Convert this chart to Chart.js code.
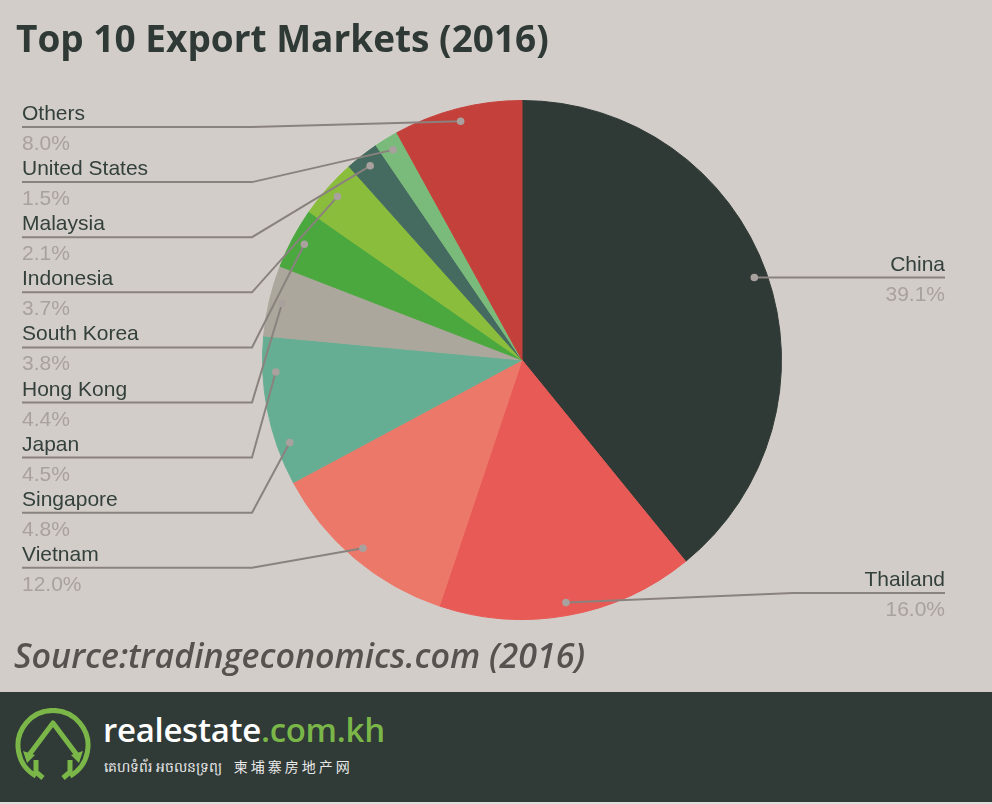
<!DOCTYPE html>
<html>
<head>
<meta charset="utf-8">
<script src="https://cdn.jsdelivr.net/npm/chart.js@4.4.1/dist/chart.umd.min.js"></script>
<style>
  html,body{margin:0;padding:0;}
  body{width:992px;height:804px;position:relative;overflow:hidden;background:#d3cdc9;}
  #c{position:absolute;left:0;top:0;}
  .title{position:absolute;left:16px;top:12px;font-family:"Open Sans",sans-serif;font-weight:700;font-size:37px;color:#2f3a36;white-space:nowrap;}
  .source{position:absolute;left:14px;top:632px;font-family:"Open Sans",sans-serif;font-style:italic;font-weight:600;font-size:34px;color:#57524f;white-space:nowrap;}
  .footer{position:absolute;left:0;top:692px;width:992px;height:110px;background:#303a37;border-bottom:2px solid #e2dedb;}
  .brand{position:absolute;left:103px;top:15px;font-family:"Open Sans",sans-serif;font-weight:600;font-size:33px;color:#ffffff;white-space:nowrap;letter-spacing:-0.3px;}
  .brand span{color:#7ab648;}
  .sub{position:absolute;left:104px;top:64px;font-family:"Noto Sans","Noto Sans CJK SC",sans-serif;font-size:14px;color:#e8e8e8;white-space:nowrap;}
  .sub .cn{font-family:"Noto Sans CJK SC",sans-serif;letter-spacing:3px;margin-left:12px;}
  svg.logo{position:absolute;left:10px;top:16px;}
</style>
</head>
<body>
<canvas id="c" width="992" height="804"></canvas>
<div class="title">Top 10 Export Markets (2016)</div>
<div class="source">Source:tradingeconomics.com (2016)</div>
<div class="footer">
  <svg class="logo" width="86" height="80" viewBox="0 0 86 80">
    <path d="M26,68 A35,35 0 1 1 60,68" fill="none" stroke="#7ab648" stroke-width="5"/>
    <path d="M19,47 L43,15 L67,47" fill="none" stroke="#7ab648" stroke-width="5" stroke-linejoin="round"/>
    <path d="M13,43 L17,55 L25,47 Z" fill="#7ab648"/>
    <path d="M73,43 L69,55 L61,47 Z" fill="#7ab648"/>
    <path d="M26,52 L26,64 L33,70" fill="none" stroke="#7ab648" stroke-width="5"/>
    <path d="M60,52 L60,64 L53,70" fill="none" stroke="#7ab648" stroke-width="5"/>
  </svg>
  <div class="brand">realestate<span>.com.kh</span></div>
  <div class="sub">គេហទំព័រ អចលនទ្រព្យ<span class="cn">柬埔寨房地产网</span></div>
</div>
<script>
const categories = ["China","Thailand","Vietnam","Singapore","Japan","Hong Kong","South Korea","Indonesia","Malaysia","United States","Others"];
const shares = [39.1,16.0,12.0,4.8,4.5,4.4,3.8,3.7,2.1,1.5,8.0];
const sliceColors = ["#2f3a36","#e85a55","#ec786a","#66ae93","#66ae93","#aca79c","#4aa83e","#8bbd3c","#456b60","#7aba7a","#c4403a"];

const calloutPlugin = {
  id: 'callouts',
  afterDatasetsDraw(chart){
    const ctx = chart.ctx;
    const meta = chart.getDatasetMeta(0);
    ctx.save();
    const fontName = '21px "Liberation Sans", Arial, sans-serif';
    meta.data.forEach((arc, i) => {
      const mid = (arc.startAngle + arc.endAngle)/2;
      const r = arc.outerRadius*0.95;
      const dx = arc.x + Math.cos(mid)*r;
      const dy = arc.y + Math.sin(mid)*r;
      const name = categories[i];
      const pct = shares[i].toFixed(1) + '%';
      ctx.strokeStyle = '#8a827e';
      ctx.lineWidth = 2;
      let lineY, textX, align;
      ctx.beginPath();
      if (i === 0) {
        lineY = dy; textX = 945; align = 'right';
        ctx.moveTo(dx, dy); ctx.lineTo(945, lineY);
      } else if (i === 1) {
        lineY = 593; textX = 945; align = 'right';
        ctx.moveTo(dx, dy); ctx.lineTo(793, lineY); ctx.lineTo(945, lineY);
      } else {
        const row = categories.length - 1 - i; // Others first
        lineY = 127 + row*55.1; textX = 22; align = 'left';
        ctx.moveTo(22, lineY); ctx.lineTo(252, lineY); ctx.lineTo(dx, dy);
      }
      ctx.stroke();
      ctx.fillStyle = '#a9a19d';
      ctx.beginPath(); ctx.arc(dx, dy, 3.8, 0, Math.PI*2); ctx.fill();
      ctx.textAlign = align;
      ctx.textBaseline = 'alphabetic';
      ctx.font = fontName;
      ctx.fillStyle = '#33403b';
      ctx.fillText(name, textX, lineY - 7);
      ctx.fillStyle = '#a9a19d';
      ctx.fillText(pct, textX, lineY + 23);
    });
    ctx.restore();
  }
};

new Chart(document.getElementById('c'), {
  type: 'pie',
  data: {
    labels: categories,
    datasets: [{ data: shares, backgroundColor: sliceColors, borderColor: sliceColors, borderWidth: 1 }]
  },
  options: {
    responsive: false,
    animation: false,
    layout: { padding: { left: 262, right: 210, top: 100, bottom: 184 } },
    plugins: { legend: { display: false }, tooltip: { enabled: false } }
  },
  plugins: [calloutPlugin]
});
</script>
</body>
</html>
